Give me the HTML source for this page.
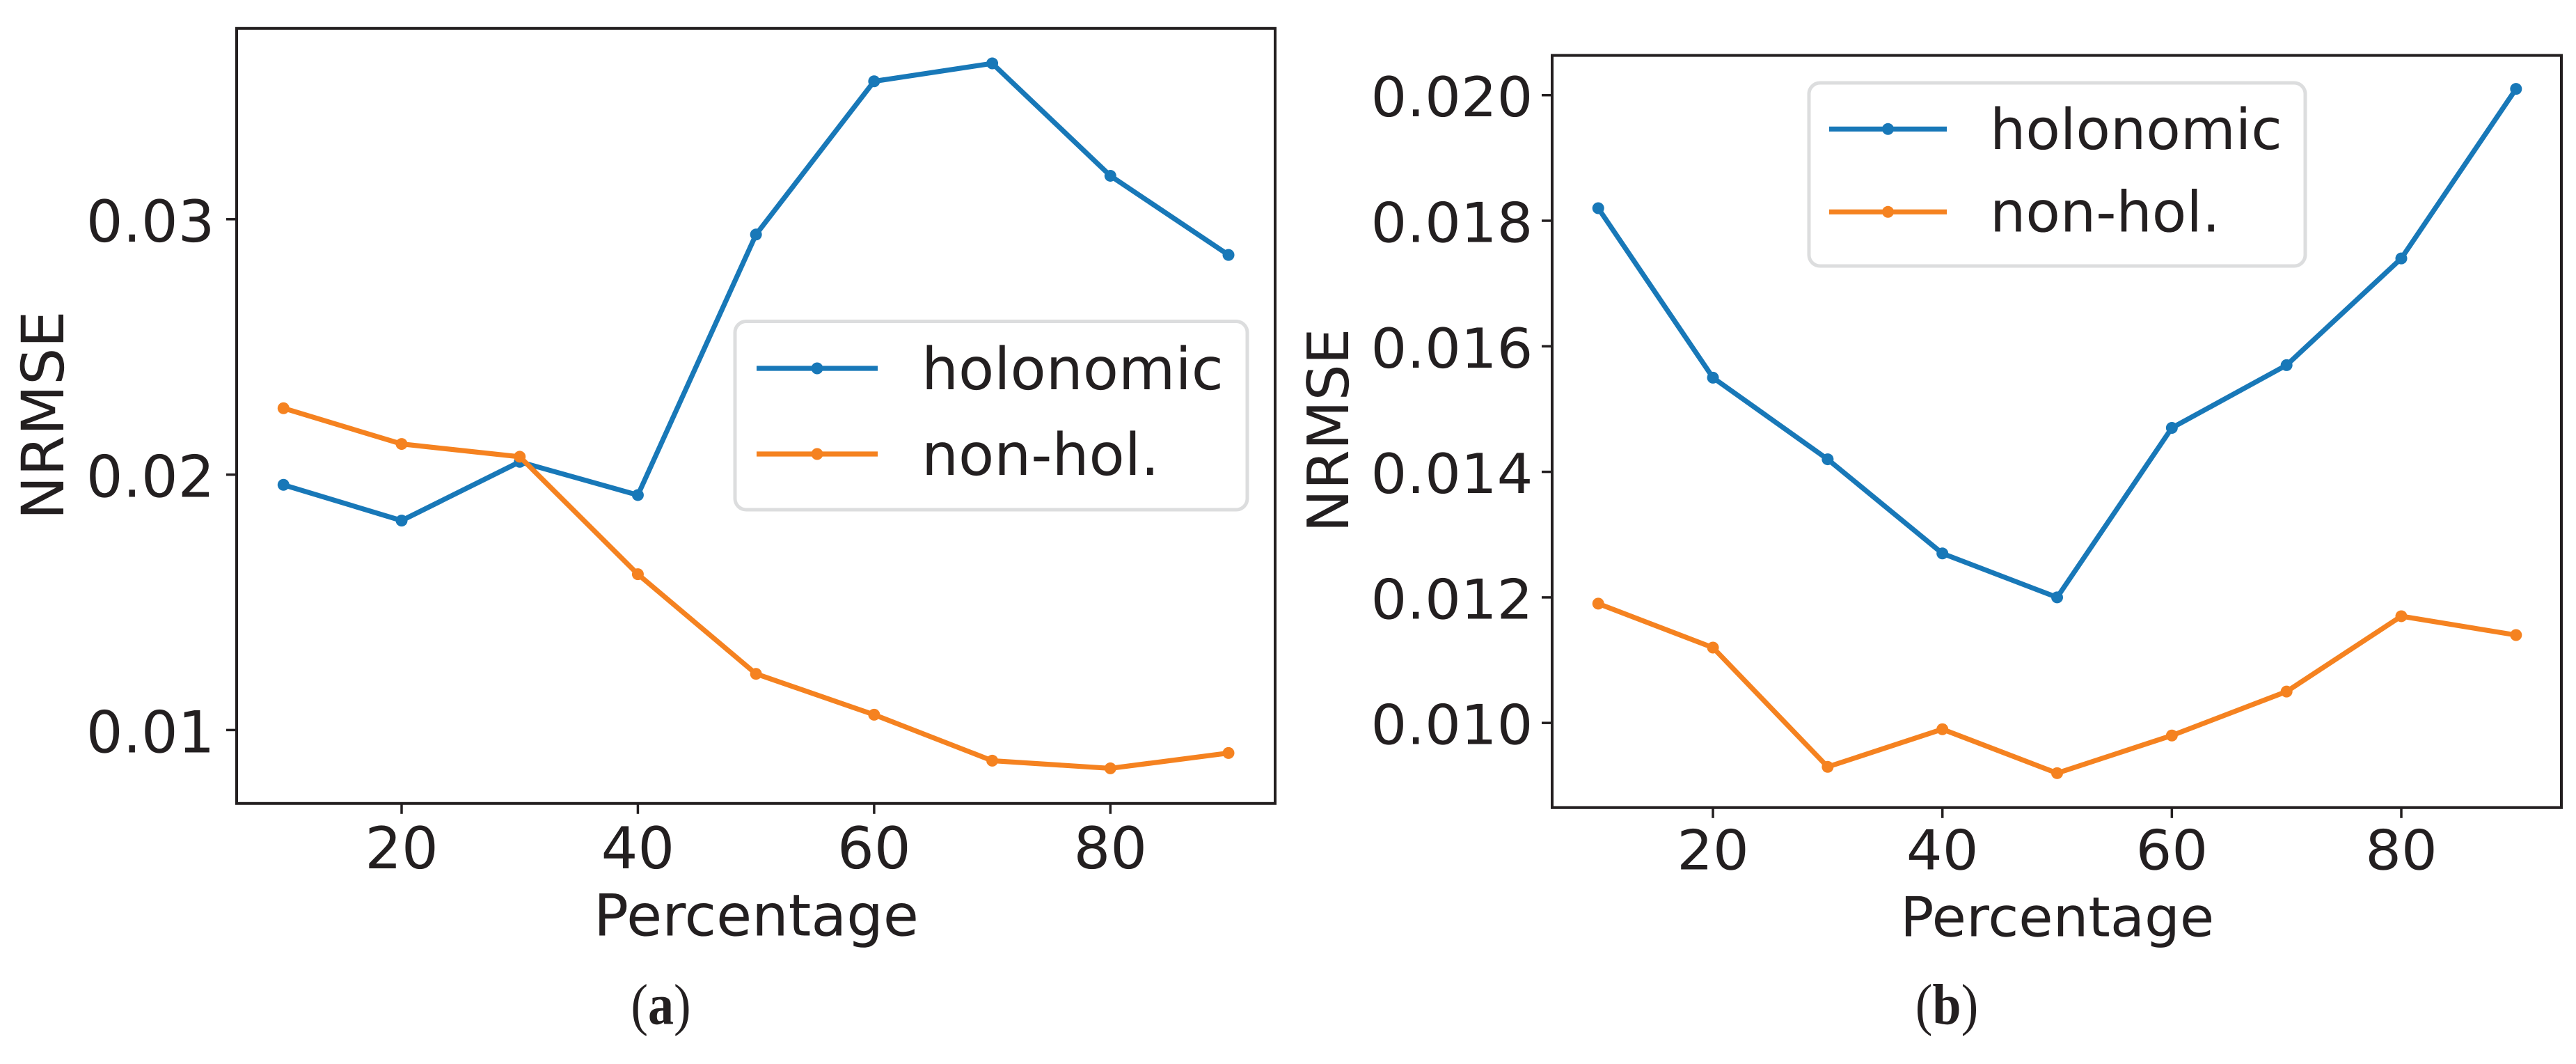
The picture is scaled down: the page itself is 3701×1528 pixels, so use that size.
<!DOCTYPE html>
<html lang="en">
<head>
<meta charset="utf-8">
<title>NRMSE vs Percentage</title>
<style>
html,body{margin:0;padding:0;background:#fff;width:3701px;height:1528px;overflow:hidden}
svg{display:block;position:absolute;left:0;top:0}
text{fill:#231f20;font-family:"DejaVu Sans","Liberation Sans",sans-serif;text-rendering:geometricPrecision}
.cap{font-family:"Liberation Serif",serif}
</style>
</head>
<body>
<svg id="figure" xmlns="http://www.w3.org/2000/svg" width="3701" height="1528" viewBox="0 0 3701 1528">
  <rect width="3701" height="1528" fill="#fff"/>
  <g id="panelA"></g>
  <g id="panelB"></g>

  <text x="1086.5" y="1343.3" font-size="83" text-anchor="middle">Percentage</text>
  <text transform="translate(91,596.5) rotate(-90)" font-size="84" text-anchor="middle">NRMSE</text>
  <text class="cap" transform="translate(949.5,1470.5) scale(1,1.12)" font-size="74" text-anchor="middle">(<tspan font-weight="bold">a</tspan>)</text>

  <text transform="translate(2955.7,1344.3) scale(1.015,1)" font-size="79" text-anchor="middle">Percentage</text>
  <text transform="translate(1937,618) rotate(-90)" font-size="82" text-anchor="middle">NRMSE</text>
  <text class="cap" transform="translate(2797,1470.5) scale(1,1.12)" font-size="74" text-anchor="middle">(<tspan font-weight="bold">b</tspan>)</text>

  <g>
    <rect x="1056" y="461.5" width="736" height="270.5" rx="16" fill="#fff" stroke="#dcddde" stroke-width="5"/>
    <line x1="1087" y1="529" x2="1261" y2="529" stroke="#1878b8" stroke-width="7.2"/>
    <circle cx="1174" cy="529" r="8.5" fill="#1878b8"/>
    <text x="1324" y="559" font-size="83.7">holonomic</text>
    <line x1="1087" y1="652" x2="1261" y2="652" stroke="#f58220" stroke-width="7.2"/>
    <circle cx="1174" cy="652" r="8.5" fill="#f58220"/>
    <text x="1324" y="682" font-size="83.7">non-hol.</text>
  </g>

  <g>
    <rect x="2599" y="119" width="713" height="263" rx="16" fill="#fff" stroke="#dcddde" stroke-width="5"/>
    <line x1="2628" y1="185.3" x2="2797" y2="185.3" stroke="#1878b8" stroke-width="7.2"/>
    <circle cx="2712.5" cy="185.3" r="8.5" fill="#1878b8"/>
    <text x="2859" y="214" font-size="81">holonomic</text>
    <line x1="2628" y1="304.3" x2="2797" y2="304.3" stroke="#f58220" stroke-width="7.2"/>
    <circle cx="2712.5" cy="304.3" r="8.5" fill="#f58220"/>
    <text x="2859" y="332.7" font-size="81">non-hol.</text>
  </g>
</svg>
<script>
// Shared categories
const percentages = [10, 20, 30, 40, 50, 60, 70, 80, 90];
const xTickValues = [20, 40, 60, 80];

// Panel (a)
const holonomicA = [0.0196, 0.0182, 0.0205, 0.0192, 0.0294, 0.0354, 0.0361, 0.0317, 0.0286];
const nonHolA = [0.0226, 0.0212, 0.0207, 0.0161, 0.0122, 0.0106, 0.0088, 0.0085, 0.0091];
const yTickValuesA = [0.01, 0.02, 0.03];
const yTickLabelsA = ["0.01", "0.02", "0.03"];

// Panel (b)
const holonomicB = [0.0182, 0.0155, 0.0142, 0.0127, 0.0120, 0.0147, 0.0157, 0.0174, 0.0201];
const nonHolB = [0.0119, 0.0112, 0.0093, 0.0099, 0.0092, 0.0098, 0.0105, 0.0117, 0.0114];
const yTickValuesB = [0.010, 0.012, 0.014, 0.016, 0.018, 0.020];
const yTickLabelsB = ["0.010", "0.012", "0.014", "0.016", "0.018", "0.020"];

const INK = "#231f20";
const BLUE = "#1878b8";
const ORANGE = "#f58220";
const NS = "http://www.w3.org/2000/svg";

function make(parent, tag, attrs, content) {
  const el = document.createElementNS(NS, tag);
  for (const k in attrs) el.setAttribute(k, attrs[k]);
  if (content !== undefined) el.textContent = content;
  parent.appendChild(el);
  return el;
}

function linearScale(d0, r0, d1, r1) {
  return function (v) { return r0 + (v - d0) * (r1 - r0) / (d1 - d0); };
}

function drawSeries(group, xs, ys, sx, sy, color, key, id) {
  const pts = xs.map(function (x, i) { return sx(x).toFixed(2) + "," + sy(ys[i]).toFixed(2); }).join(" ");
  const line = make(group, "polyline", { points: pts, fill: "none", stroke: color, "stroke-width": 7.2, "stroke-linejoin": "miter" });
  
  
  xs.forEach(function (x, i) {
    const dot = make(group, "circle", { cx: sx(x), cy: sy(ys[i]), r: 8.5, fill: color });
    
    
  });
}

function drawPanel(group, id, box, sx, sy, yVals, yLabels, font, xBase, yBaseOffset, yLabelRight, hol, non) {
  xTickValues.forEach(function (v) {
    const t = make(group, "line", { x1: sx(v), x2: sx(v), y1: box.bottom, y2: box.bottom + 15, stroke: INK, "stroke-width": 3.5 });
    
    
    const l = make(group, "text", { transform: "translate(" + sx(v) + "," + xBase + ") scale(" + font.stretch + ",1)", "font-size": font.size, "text-anchor": "middle" }, String(v));
    
    
  });
  yVals.forEach(function (v, i) {
    const t = make(group, "line", { x1: box.left - 15, x2: box.left, y1: sy(v), y2: sy(v), stroke: INK, "stroke-width": 3.5 });
    
    
    const l = make(group, "text", { transform: "translate(" + yLabelRight + "," + (sy(v) + yBaseOffset) + ") scale(" + font.stretch + ",1)", "font-size": font.size, "text-anchor": "end" }, yLabels[i]);
    
    
  });
  drawSeries(group, percentages, hol, sx, sy, BLUE, 'holonomic', id);
  drawSeries(group, percentages, non, sx, sy, ORANGE, 'non-hol', id);
  const frame = make(group, "rect", { x: box.left, y: box.top, width: box.right - box.left, height: box.bottom - box.top, fill: "none", stroke: INK, "stroke-width": 4 });
  
  
}

drawPanel(
  document.getElementById("panelA"), "a",
  { left: 340, right: 1832, top: 40.8, bottom: 1153.8 },
  linearScale(20, 577, 80, 1595.3),
  linearScale(0.02, 681.6, 0.03, 314.8),
  yTickValuesA, yTickLabelsA, { size: 83, stretch: 1 }, 1247, 32, 308.5, holonomicA, nonHolA
);
drawPanel(
  document.getElementById("panelB"), "b",
  { left: 2230, right: 3680, top: 79.6, bottom: 1159.8 },
  linearScale(40, 2790.7, 80, 3450),
  linearScale(0.014, 677.6, 0.020, 136.7),
  yTickValuesB, yTickLabelsB, { size: 79, stretch: 1.03 }, 1248.4, 30.5, 2202.4, holonomicB, nonHolB
);
</script>
</body>
</html>
